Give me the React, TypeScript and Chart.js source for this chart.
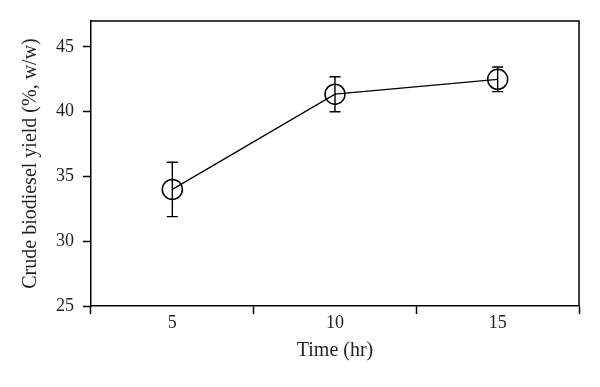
import React, { useEffect, useRef } from "react";
import { Chart, registerables } from "chart.js";

Chart.register(...registerables);

const categories = ["5", "10", "15"];
const yieldValues = [34.0, 41.35, 42.5];
const yieldErrors = [2.1, 1.35, 0.95];
const yTickValues = [25, 30, 35, 40, 45];

const INK = "#231f20";
const FONT = "'Liberation Serif', 'Times New Roman', serif";

const frameAndErrorBars = {
  id: "frameAndErrorBars",
  afterDatasetsDraw(chart: any) {
    const { ctx, chartArea } = chart;
    const yScale = chart.scales.y;
    const meta = chart.getDatasetMeta(0);
    ctx.save();
    ctx.strokeStyle = "#000";
    ctx.lineWidth = 1.5;
    // frame top & right
    ctx.beginPath();
    ctx.moveTo(chartArea.left, chartArea.top);
    ctx.lineTo(chartArea.right, chartArea.top);
    ctx.lineTo(chartArea.right, chartArea.bottom);
    ctx.stroke();
    // error bars
    ctx.lineWidth = 1.4;
    const cap = 5.5;
    meta.data.forEach((pt: any, i: number) => {
      const x = pt.x;
      const yTop = yScale.getPixelForValue(yieldValues[i] + yieldErrors[i]);
      const yBot = yScale.getPixelForValue(yieldValues[i] - yieldErrors[i]);
      ctx.beginPath();
      ctx.moveTo(x, yTop);
      ctx.lineTo(x, yBot);
      ctx.moveTo(x - cap, yTop);
      ctx.lineTo(x + cap, yTop);
      ctx.moveTo(x - cap, yBot);
      ctx.lineTo(x + cap, yBot);
      ctx.stroke();
    });
    ctx.restore();
  },
};

export default function App() {
  const canvasRef = useRef<HTMLCanvasElement | null>(null);

  useEffect(() => {
    if (!canvasRef.current) return;
    const chart = new Chart(canvasRef.current, {
      type: "line",
      data: {
        labels: categories,
        datasets: [
          {
            data: yieldValues,
            borderColor: "#000",
            borderWidth: 1.3,
            tension: 0,
            pointRadius: 10,
            pointHoverRadius: 10,
            pointBorderWidth: 1.5,
            pointBorderColor: "#000",
            pointBackgroundColor: "rgba(0,0,0,0)",
            fill: false,
          },
        ],
      },
      options: {
        animation: false,
        responsive: true,
        maintainAspectRatio: false,
        layout: { padding: { top: 21, right: 21, left: 0, bottom: 0 } },
        plugins: {
          legend: { display: false },
          tooltip: { enabled: false },
        },
        scales: {
          x: {
            type: "category",
            offset: true,
            grid: {
              offset: true,
              drawOnChartArea: false,
              drawTicks: true,
              tickLength: 8,
              tickWidth: 1.5,
              color: "#000",
            },
            border: { display: true, color: "#000", width: 1.5 },
            ticks: {
              color: INK,
              font: { family: FONT, size: 18 },
              padding: -2,
              maxRotation: 0,
            },
            title: {
              display: true,
              text: "Time (hr)",
              color: INK,
              font: { family: FONT, size: 20 },
              padding: { top: 0, bottom: 24 },
            },
            afterFit: (scale: any) => {
              scale.height = 81;
            },
          },
          y: {
            type: "linear",
            min: 25,
            max: 47,
            afterBuildTicks: (scale: any) => {
              scale.ticks = yTickValues.map((v) => ({ value: v }));
            },
            grid: {
              drawOnChartArea: false,
              drawTicks: true,
              tickLength: 8,
              tickWidth: 1.5,
              color: "#000",
            },
            border: { display: true, color: "#000", width: 1.5 },
            ticks: {
              color: INK,
              font: { family: FONT, size: 18 },
              padding: 9,
            },
            title: {
              display: true,
              text: "Crude biodiesel yield (%, w/w)",
              color: INK,
              font: { family: FONT, size: 20 },
              padding: { top: 19, bottom: 0 },
            },
            afterFit: (scale: any) => {
              scale.width = 91;
            },
          },
        },
      },
      plugins: [frameAndErrorBars],
    });
    return () => chart.destroy();
  }, []);

  return (
    <div
      style={{
        position: "absolute",
        left: 0,
        top: 0,
        width: 600,
        height: 387,
        background: "#fff",
      }}
    >
      <canvas ref={canvasRef} />
    </div>
  );
}
